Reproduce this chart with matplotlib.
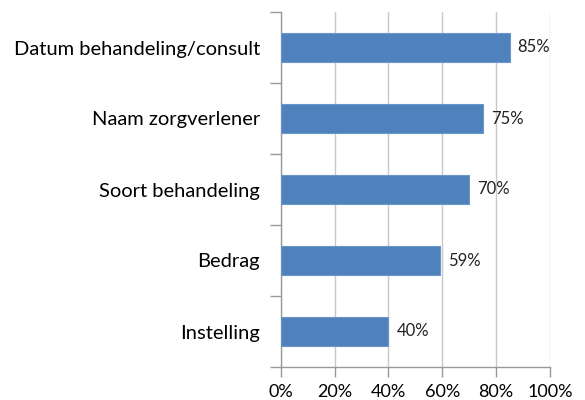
import matplotlib
matplotlib.use("Agg")
import matplotlib.pyplot as plt
from matplotlib.ticker import FixedLocator

categories = ["Datum behandeling/consult", "Naam zorgverlener", "Soort behandeling", "Bedrag", "Instelling"]
values = [85, 75, 70, 59, 40]
xticks = [0, 20, 40, 60, 80, 100]
xticklabels = ["0%", "20%", "40%", "60%", "80%", "100%"]

plt.rcParams['font.family'] = ['Lato', 'DejaVu Sans']
fig = plt.figure(figsize=(5.85, 4.0), dpi=100)
ax = fig.add_axes([0.480, 0.0825, 0.460, 0.8875])

n = len(categories)
ypos = list(range(n))[::-1]
ax.barh(ypos, values, height=0.41, color="#4F81BD", edgecolor="#6B95CB", linewidth=0.8, zorder=3)
for y, v in zip(ypos, values):
    ax.text(v + 3, y, f"{v}%", va="center", ha="left", fontsize=12, color="#222222")

ax.set_xlim(0, 100)
ax.set_ylim(-0.5, n - 0.5)
ax.set_xticks(xticks)
ax.set_xticklabels(xticklabels, fontsize=13)
ax.set_yticks(ypos)
ax.set_yticklabels(categories, fontsize=14.5)
ax.tick_params(axis="y", length=0, pad=15)
ax.yaxis.set_minor_locator(FixedLocator([i - 0.5 for i in range(n + 1)]))
ax.tick_params(axis="y", which="minor", length=8, color="#999999", width=1)
ax.tick_params(axis="x", length=7, color="#999999", width=1, pad=5)
ax.grid(axis="x", color="#C8C8C8", linewidth=1, zorder=0)
for s in ["top", "right"]:
    ax.spines[s].set_visible(False)
for s in ["left", "bottom"]:
    ax.spines[s].set_color("#999999")
    ax.spines[s].set_linewidth(1)

fig.savefig("out.png", dpi=100, facecolor="white")
